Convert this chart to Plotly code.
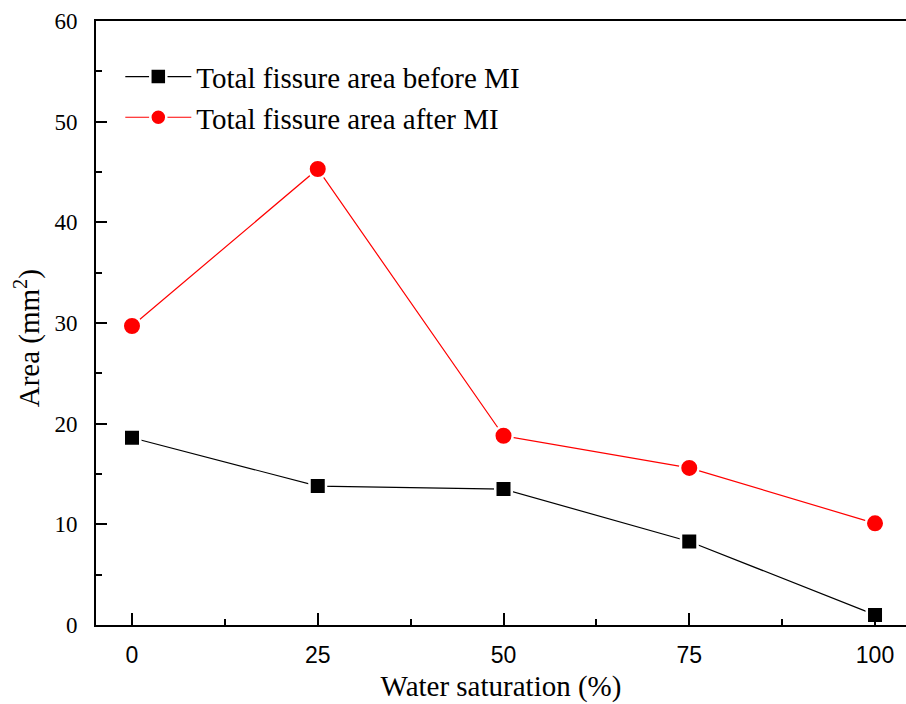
import plotly.graph_objects as go

# Water saturation levels (%)
saturation = [0, 25, 50, 75, 100]
# Total fissure area (mm^2)
area_before = [18.6, 13.8, 13.5, 8.3, 1.0]
area_after = [29.7, 45.3, 18.8, 15.6, 10.1]

x_ticks = [0, 25, 50, 75, 100]
y_ticks = [0, 10, 20, 30, 40, 50, 60]

serif = "Liberation Serif, Times New Roman, serif"
sans = "Liberation Sans, Arial, sans-serif"

fig = go.Figure()

# White marker outlines leave a small gap where the line meets each point
fig.add_trace(go.Scatter(
    x=saturation, y=area_before, mode="lines+markers",
    name="Total fissure area before MI",
    line=dict(color="black", width=1.2),
    marker=dict(symbol="square", size=16.5, color="black",
                line=dict(color="white", width=2.5)),
))
fig.add_trace(go.Scatter(
    x=saturation, y=area_after, mode="lines+markers",
    name="Total fissure area after MI",
    line=dict(color="#ff0000", width=1.2),
    marker=dict(symbol="circle", size=18.5, color="#ff0000",
                line=dict(color="white", width=2.5)),
))

# Vertical axis title, placed as a rotated annotation left of the tick labels
fig.add_annotation(
    text="Area (mm<sup>2</sup>)", textangle=-90,
    xref="paper", yref="paper", x=-0.085, y=0.475,
    xanchor="center", yanchor="middle", showarrow=False,
    font=dict(family=serif, size=29, color="black"),
)

fig.update_layout(
    width=906, height=704,
    margin=dict(l=96, r=0, t=21, b=79),
    paper_bgcolor="white", plot_bgcolor="white",
    showlegend=True,
    legend=dict(
        x=0.03, y=0.95, xanchor="left", yanchor="top",
        font=dict(family=serif, size=29, color="black"),
        bgcolor="rgba(0,0,0,0)", borderwidth=0,
        tracegroupgap=0, itemwidth=66,
    ),
    xaxis=dict(
        range=[-4.845, 104.17],
        tickmode="array", tickvals=x_ticks, ticktext=[str(v) for v in x_ticks],
        ticks="inside", ticklen=12, tickwidth=2, tickcolor="black",
        minor=dict(dtick=12.5, tick0=0, ticks="inside", ticklen=6,
                   tickwidth=2, tickcolor="black", showgrid=False),
        showline=True, linecolor="black", linewidth=2, mirror=True,
        showgrid=False, zeroline=False,
        tickfont=dict(family=sans, size=23, color="black"),
        ticklabelstandoff=8,
        title=dict(text="Water saturation (%)", standoff=9,
                   font=dict(family=serif, size=29, color="black")),
    ),
    yaxis=dict(
        range=[0, 60],
        tickmode="array", tickvals=y_ticks, ticktext=[str(v) for v in y_ticks],
        ticks="inside", ticklen=11, tickwidth=2, tickcolor="black",
        minor=dict(dtick=5, tick0=0, ticks="inside", ticklen=6,
                   tickwidth=2, tickcolor="black", showgrid=False),
        showline=True, linecolor="black", linewidth=2, mirror=False,
        showgrid=False, zeroline=False,
        tickfont=dict(family=serif, size=23, color="black"),
        ticklabelstandoff=12,
    ),
)

fig.write_html("out.html")
